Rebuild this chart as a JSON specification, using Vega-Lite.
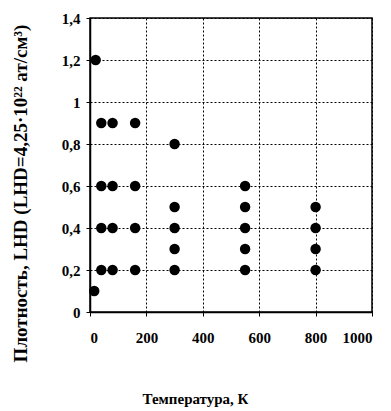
{
  "$schema": "https://vega.github.io/schema/vega-lite/v6.json",
  "autosize": "none",
  "width": 282,
  "height": 294,
  "padding": {"left": 90, "top": 18, "right": 19, "bottom": 99},
  "background": "white",
  "config": {
    "view": {"stroke": "black", "strokeWidth": 1.5},
    "font": "Liberation Serif"
  },
  "data": {
    "values": [
      {"T": 20, "d": 1.2}, {"T": 15, "d": 0.1},
      {"T": 40, "d": 0.9}, {"T": 80, "d": 0.9}, {"T": 160, "d": 0.9},
      {"T": 40, "d": 0.6}, {"T": 80, "d": 0.6}, {"T": 160, "d": 0.6},
      {"T": 40, "d": 0.4}, {"T": 80, "d": 0.4}, {"T": 160, "d": 0.4},
      {"T": 40, "d": 0.2}, {"T": 80, "d": 0.2}, {"T": 160, "d": 0.2},
      {"T": 300, "d": 0.8}, {"T": 300, "d": 0.5}, {"T": 300, "d": 0.4}, {"T": 300, "d": 0.3}, {"T": 300, "d": 0.2},
      {"T": 550, "d": 0.6}, {"T": 550, "d": 0.5}, {"T": 550, "d": 0.4}, {"T": 550, "d": 0.3}, {"T": 550, "d": 0.2},
      {"T": 800, "d": 0.5}, {"T": 800, "d": 0.4}, {"T": 800, "d": 0.3}, {"T": 800, "d": 0.2}
    ]
  },
  "mark": {"type": "point", "filled": true, "color": "black", "opacity": 1, "size": 110},
  "encoding": {
    "x": {
      "field": "T", "type": "quantitative",
      "scale": {"domain": [0, 1000], "nice": false},
      "axis": {
        "values": [0, 200, 400, 600, 800, 1000],
        "format": "d",
        "title": "Температура, К",
        "titleFont": "Liberation Serif, Times New Roman, serif", "titleFontWeight": "bold", "titleFontSize": 15, "titleColor": "black",
        "titleX": 105, "titleY": 86, "titleBaseline": "middle", "titleAlign": "center",
        "labelFont": "Liberation Serif, Times New Roman, serif", "labelFontSize": 15, "labelColor": "black", "labelFontWeight": "bold",
        "labelPadding": 14, "tickSize": 4, "tickColor": "black",
        "domainColor": "black", "domainWidth": 1.5,
        "grid": true, "gridColor": "black", "gridDash": [2, 2], "gridWidth": 1, "gridOpacity": 1
      }
    },
    "y": {
      "field": "d", "type": "quantitative",
      "scale": {"domain": [0, 1.4], "nice": false},
      "axis": {
        "values": [0, 0.2, 0.4, 0.6, 0.8, 1, 1.2, 1.4],
        "labelExpr": "replace(format(datum.value, '~g'), '.', ',')",
        "title": "Плотность, LHD (LHD=4,25·10²² ат/см³)",
        "titleFont": "Liberation Serif, Times New Roman, serif", "titleFontWeight": "bold", "titleFontSize": 19, "titleColor": "black",
        "titleX": -70, "titleY": 175, "titleAngle": -90, "titleBaseline": "middle", "titleAlign": "center",
        "labelFont": "Liberation Serif, Times New Roman, serif", "labelFontSize": 15, "labelColor": "black", "labelFontWeight": "bold",
        "labelPadding": 6, "tickSize": 4, "tickColor": "black",
        "domainColor": "black", "domainWidth": 1.5,
        "grid": true, "gridColor": "black", "gridDash": [2, 2], "gridWidth": 1, "gridOpacity": 1
      }
    }
  }
}
